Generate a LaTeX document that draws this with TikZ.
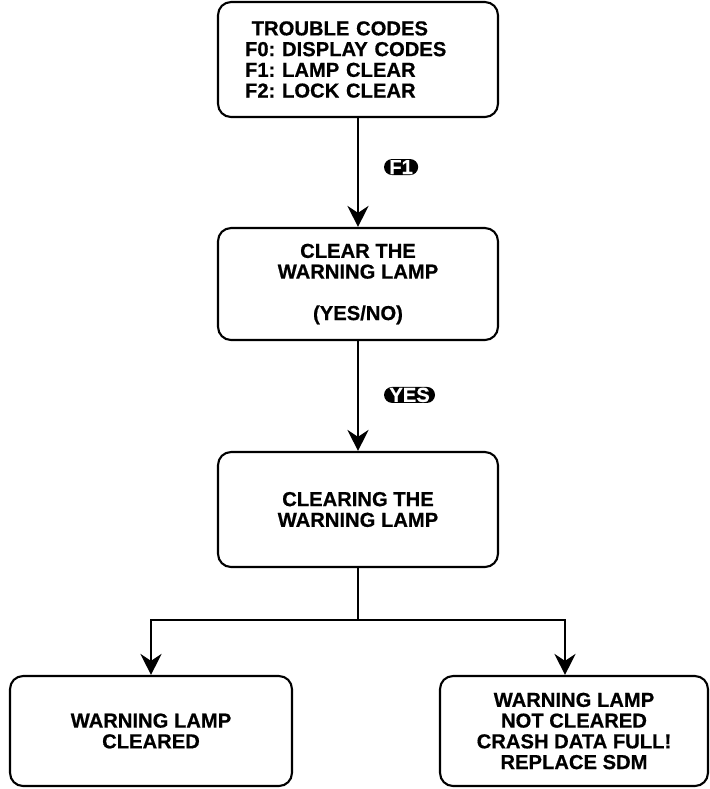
\documentclass[tikz,border=0pt]{standalone}
\usepackage{fontspec}
\setmainfont{Liberation Sans}[FakeBold=0.6]
\usepackage{tikz}
\usetikzlibrary{positioning,arrows.meta}
\frenchspacing

\begin{document}
\begin{tikzpicture}[x=0.02cm,y=-0.02cm,
		screen/.style={draw,line width=1.2pt,rounded corners=0.26cm,align=center,
			font=\fontsize{11.5}{11.8}\selectfont\bfseries,inner sep=0pt},
		key/.style={fill=black,text=white,rounded corners=0.16cm,inner xsep=3pt,inner ysep=0pt,
			minimum height=0.32cm,font=\fontsize{11.5}{11.5}\selectfont\bfseries},
		flow/.style={line width=1.2pt,-{Stealth[length=12pt,width=12pt,inset=4pt]}}]
			
			\useasboundingbox (0,0) rectangle (710,789);
			
			\node[screen,minimum width=5.6cm,minimum height=2.3cm,text width=4.52cm,align=left] (codes) at (358,59.5)
				{\ TROUBLE CODES\\F0: DISPLAY CODES\\F1: LAMP CLEAR\\F2: LOCK CLEAR};
			\node[screen,minimum width=5.6cm,minimum height=2.24cm] (ask) at (358,284)
				{CLEAR THE\\WARNING LAMP\\[11.8pt](YES/NO)};
			\node[screen,minimum width=5.6cm,minimum height=2.3cm] (clearing) at (358,509.5)
				{CLEARING THE\\WARNING LAMP};
			\node[screen,minimum width=5.64cm,minimum height=2.2cm] (cleared) at (151,731)
				{WARNING LAMP\\CLEARED};
			\node[screen,minimum width=5.36cm,minimum height=2.2cm] (full) at (574,731)
				{WARNING LAMP\\NOT CLEARED\\CRASH DATA FULL!\\REPLACE SDM};
			
			\coordinate (split) at (clearing.south |- 0,620);
			\coordinate (fulltop) at ([xshift=-0.18cm]full.north);
			
			\draw[flow] (codes)-- node[key,right=0.5cm,pos=0.45]{F1} (ask);
			\draw[flow] (ask)-- node[key,right=0.5cm,pos=0.49]{YES} (clearing);
			\draw[line width=1.2pt] (clearing)-- (split);
			\draw[flow] (split) -| (cleared);
			\draw[flow] (split) -| (fulltop);
			
		\end{tikzpicture}
\end{document}
